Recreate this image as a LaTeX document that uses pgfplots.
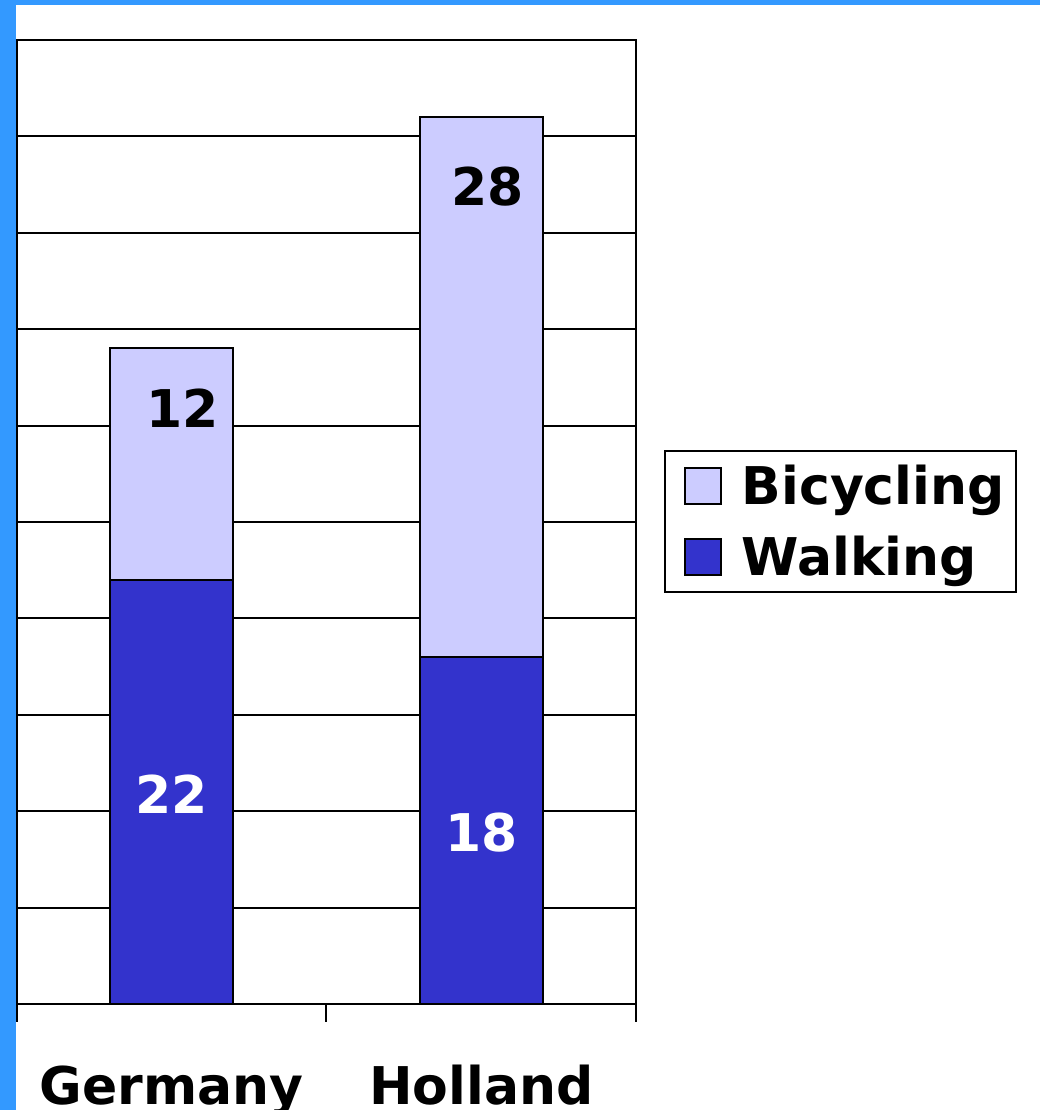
\documentclass[border=0pt]{standalone}
\usepackage{fontspec}
\setmainfont{DejaVu Sans}
\usepackage{pgfplots}
\pgfplotsset{compat=1.18}
\definecolor{walk}{HTML}{3333CC}
\definecolor{bike}{HTML}{CCCCFF}
\definecolor{frameblue}{HTML}{3399FF}
\newcommand{\lbl}{\bfseries\fontsize{26}{31}\selectfont}

\begin{document}
\begin{tikzpicture}
\useasboundingbox (-8.5pt,-53pt) rectangle (511.5pt,502pt);
\clip (-8.5pt,-53pt) rectangle (511.5pt,502pt);
\begin{axis}[
    scale only axis,
    width=309.5pt, height=482pt,
    ybar stacked, bar width=61.5pt,
    xmin=-0.5, xmax=1.5, ymin=0, ymax=50,
    xtick={0,1}, xticklabels={Germany,Holland},
    minor xtick={-0.5,0.5,1.5},
    major x tick style={draw=none},
    minor x tick style={black, line width=1pt},
    minor tick length=9pt,
    tick align=outside, xtick pos=bottom,
    ytick={0,5,...,50}, yticklabels={},
    ytick style={draw=none},
    ymajorgrids, grid style={black, line width=1pt},
    axis line style={black, line width=1pt},
    xticklabel style={font=\lbl, anchor=base, yshift=-46pt},
    legend image code/.code={\path (0pt,0pt); \draw[#1, line width=0.8pt] (7pt,-9pt) rectangle (25pt,9pt);},
    reverse legend,
    legend style={at={(axis description cs:1.0452,0.5747)}, anchor=north west,
        draw=black, line width=1pt, font=\lbl, row sep=8pt,
        inner xsep=2.5pt, inner ysep=4pt,
        /tikz/every odd column/.append style={column sep=7pt},
        nodes={inner sep=3pt}},
    legend cell align=left,
    after end axis/.code={
        \node[font=\lbl, white] at (axis cs:0,10.9) {22};
        \node[font=\lbl, white] at (axis cs:1,8.9) {18};
        \node[font=\lbl, black] at (axis cs:0.035,30.9) {12};
        \node[font=\lbl, black] at (axis cs:1.02,42.4) {28};
    },
]
\addplot[fill=walk, draw=black, line width=1pt] coordinates {(0,22) (1,18)};
\addplot[fill=bike, draw=black, line width=1pt] coordinates {(0,12) (1,28)};
\legend{Walking, Bicycling}
\end{axis}
\fill[frameblue] (-8.5pt,-53pt) rectangle (-0.5pt,502pt);
\fill[frameblue] (-8.5pt,499.5pt) rectangle (511.5pt,502pt);
\end{tikzpicture}
\end{document}
